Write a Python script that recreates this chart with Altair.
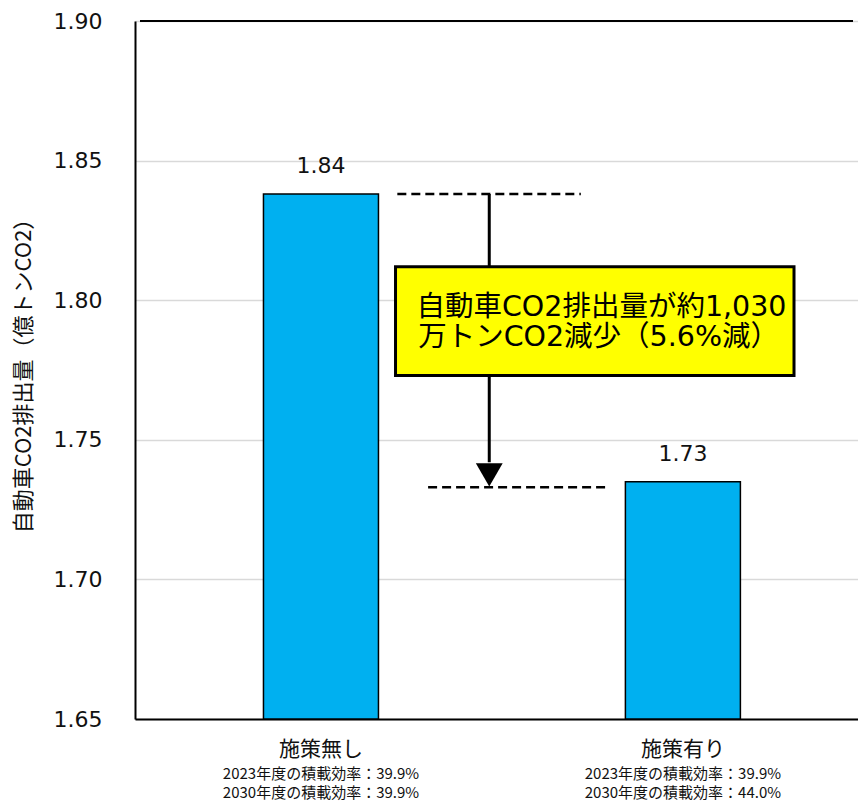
import altair as alt
import pandas as pd

# ---- data ----
categories = ["施策無し", "施策有り"]
emissions = [1.838, 1.735]
value_labels = ["1.84", "1.73"]
sub_line1 = ["2023年度の積載効率：39.9%", "2023年度の積載効率：39.9%"]
sub_line2 = ["2030年度の積載効率：39.9%", "2030年度の積載効率：44.0%"]

y_ticks = [1.65, 1.70, 1.75, 1.80, 1.85, 1.90]
y_title = "自動車CO2排出量（億トンCO2）"

# annotation (data units)
ref_levels = [1.838, 1.733]
ref_x_start = [0.711, 0.796]
ref_x_end = [1.218, 1.289]
arrow_x = [0.965]
arrow_from = [1.838]
arrow_to = [1.742]
arrow_head_y = [1.7374]
box_x = [0.706]
box_x2 = [1.807]
box_y = [1.773]
box_y2 = [1.812]
box_lines = ["自動車CO2排出量が約1,030", "万トンCO2減少（5.6%減）"]
box_text_x = [1.275, 1.267]
box_text_y = [1.7974, 1.7867]

x_domain = [0, 1.97]
y_domain = [y_ticks[0], y_ticks[-1]]

LATIN = "DejaVu Sans, Noto Sans CJK JP"
CJK = "Noto Sans CJK JP"

df = pd.DataFrame({
    "idx": list(range(len(categories))),
    "category": categories,
    "value": emissions,
    "label": value_labels,
    "sub1": sub_line1,
    "sub2": sub_line2,
})
df["base"] = y_domain[0]

xs = alt.Scale(domain=x_domain, nice=False, zero=False)
ys = alt.Scale(domain=y_domain, nice=False, zero=False)

x_axis = alt.Axis(labels=False, ticks=False, grid=False, title=None,
                  domainColor="black", domainWidth=2)
y_axis = alt.Axis(values=y_ticks, format=".2f", ticks=False,
                  labelPadding=33, labelFont=LATIN, labelFontSize=22,
                  labelColor="#111", gridColor="#d9d9d9", gridWidth=1.5,
                  domainColor="black", domainWidth=2,
                  title=y_title, titleFont=CJK, titleFontSize=22,
                  titleFontWeight="normal", titleColor="#111",
                  titleX=-112, titleBaseline="middle")


def X(field):
    return alt.X(field, scale=xs, axis=x_axis)


def Y(field):
    return alt.Y(field, scale=ys, axis=y_axis)


base = alt.Chart(df).transform_calculate(pos="datum.idx + 0.5")

bars = base.mark_bar(size=115, orient="vertical", color="#00B0F0",
                     stroke="black", strokeWidth=1.5).encode(
    x=X("pos:Q"), y=Y("value:Q"), y2="base:Q",
)

val_text = base.mark_text(font=LATIN, fontSize=22, dy=-28, color="#111").encode(
    x=X("pos:Q"), y=Y("value:Q"), text="label:N",
)

cat_text = base.mark_text(font=CJK, fontSize=21, dy=31, color="#111").encode(
    x=X("pos:Q"), y=Y("base:Q"), text="category:N",
)
sub1_text = base.mark_text(font=CJK, fontSize=15, dy=55, color="#111").encode(
    x=X("pos:Q"), y=Y("base:Q"), text="sub1:N",
)
sub2_text = base.mark_text(font=CJK, fontSize=15, dy=74, color="#111").encode(
    x=X("pos:Q"), y=Y("base:Q"), text="sub2:N",
)

ref_df = pd.DataFrame({"y": ref_levels, "x": ref_x_start, "x2": ref_x_end})
ref_lines = alt.Chart(ref_df).mark_rule(color="black", strokeWidth=2.5,
                                        strokeDash=[9, 5]).encode(
    x=X("x:Q"), x2="x2:Q", y=Y("y:Q"),
)

arrow_df = pd.DataFrame({"x": arrow_x, "y": arrow_from, "y2": arrow_to,
                         "head": arrow_head_y})
arrow_line = alt.Chart(arrow_df).mark_rule(color="black", strokeWidth=3).encode(
    x=X("x:Q"), y=Y("y:Q"), y2="y2:Q",
)
arrow_head = alt.Chart(arrow_df).mark_point(shape="triangle-down", filled=True,
                                            color="black", size=720, opacity=1).encode(
    x=X("x:Q"), y=Y("head:Q"),
)

box_df = pd.DataFrame({"x": box_x, "x2": box_x2, "y": box_y, "y2": box_y2})
box = alt.Chart(box_df).mark_rect(fill="#FFFF00", stroke="black", strokeWidth=3).encode(
    x=X("x:Q"), x2="x2:Q", y=Y("y:Q"), y2="y2:Q",
)

bt_df = pd.DataFrame({"t": box_lines, "x": box_text_x, "y": box_text_y})
box_text = alt.Chart(bt_df).mark_text(font=LATIN, fontSize=28.5, color="black",
                                      baseline="middle").encode(
    x=X("x:Q"), y=Y("y:Q"), text="t:N",
)

top_df = pd.DataFrame({"y": [y_domain[1]], "x": [x_domain[0]], "x2": [x_domain[1]]})
top_rule = alt.Chart(top_df).mark_rule(color="black", strokeWidth=2).encode(
    x=X("x:Q"), x2="x2:Q", y=Y("y:Q"),
)

chart = alt.layer(
    bars, ref_lines, arrow_line, arrow_head, box, box_text,
    val_text, cat_text, sub1_text, sub2_text, top_rule,
).properties(
    width=723, height=698,
    autosize=alt.AutoSizeParams(type="none"),
    padding={"left": 135, "top": 21, "right": 0, "bottom": 85},
).configure_view(stroke=None).configure(background="white")

chart.save("out.html", embed_options={"renderer": "svg", "actions": False})
